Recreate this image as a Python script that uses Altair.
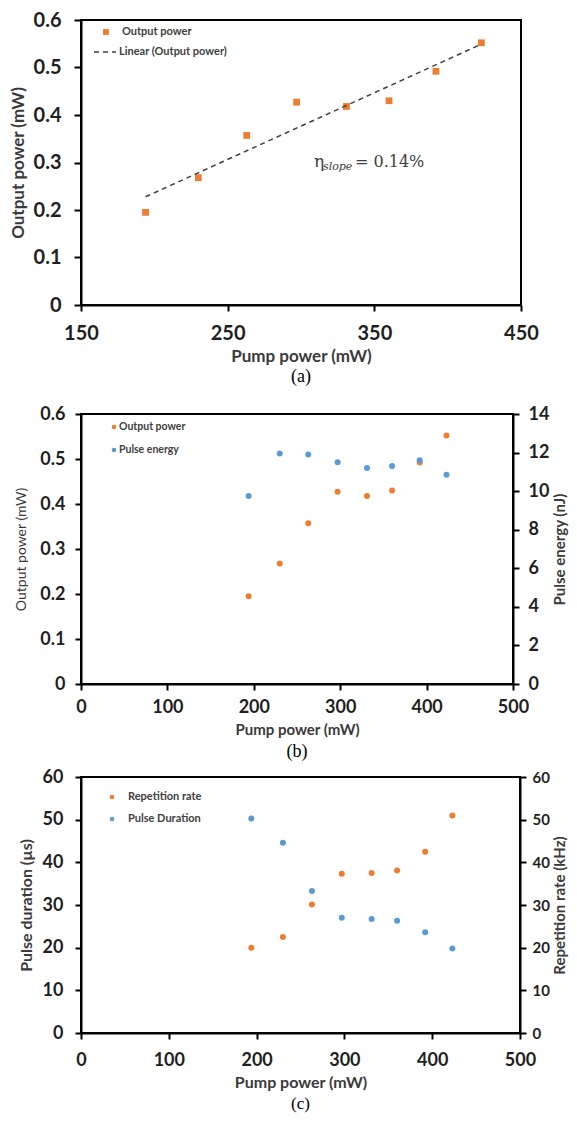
import altair as alt
import pandas as pd

# ---- data ----
pump = [194, 230, 263, 297, 331, 360, 392, 423]
output_power = [0.195, 0.268, 0.357, 0.427, 0.418, 0.430, 0.492, 0.552]
pulse_energy = [9.75, 11.95, 11.9, 11.5, 11.2, 11.3, 11.6, 10.85]
rep_rate = [20.0, 22.5, 30.1, 37.3, 37.5, 38.1, 42.5, 51.0]
pulse_duration = [50.3, 44.6, 33.3, 27.0, 26.7, 26.3, 23.6, 19.8]

xticks_a = [150, 250, 350, 450]
yticks_power = [0, 0.1, 0.2, 0.3, 0.4, 0.5, 0.6]
xticks_bc = [0, 100, 200, 300, 400, 500]
yticks_energy = [0, 2, 4, 6, 8, 10, 12, 14]
yticks_60 = [0, 10, 20, 30, 40, 50, 60]

ORANGE = "#ED7D31"
BLUE = "#5B9BD5"
FONT = "Lato"
TXT = "#404040"

df = pd.DataFrame({"pump": pump, "out": output_power, "energy": pulse_energy,
                   "rep": rep_rate, "dur": pulse_duration})
one = pd.DataFrame({"d": [0]})


def label(text, x, y, size=11, weight="bold", font=FONT, style="normal", color=TXT):
    return alt.Chart(one).mark_text(text=text, align="left", baseline="middle", font=font,
                                    fontSize=size, fontWeight=weight, fontStyle=style,
                                    color=color).encode(x=alt.value(x), y=alt.value(y))


def dot(x, y, color, shape="circle", size=36):
    return alt.Chart(one).mark_point(shape=shape, filled=True, size=size, color=color,
                                     opacity=1).encode(x=alt.value(x), y=alt.value(y))


def caption(t, off, size=18):
    return alt.TitleParams(t, orient="bottom", font="Liberation Serif", fontSize=size,
                           fontWeight="normal", color="black", offset=off, anchor="middle")


# ---------------- panel (a) ----------------
xa = alt.X("pump:Q", scale=alt.Scale(domain=[150, 450], nice=False, zero=False),
           axis=alt.Axis(values=xticks_a, title="Pump power (mW)", labelFontSize=20,
                         labelFlush=False, titleFontSize=17, labelPadding=12,
                         titlePadding=5, tickSize=6))
ya = alt.Y("out:Q", scale=alt.Scale(domain=[0, 0.6], nice=False),
           axis=alt.Axis(values=yticks_power, format="~g", title="Output power (mW)",
                         labelFontSize=20, titleFontSize=17, labelPadding=13,
                         titlePadding=6, tickSize=7))
pts_a = alt.Chart(df).mark_point(shape="square", filled=True, size=46, color=ORANGE,
                                 opacity=1).encode(x=xa, y=ya)
fit_a = alt.Chart(df).transform_regression("pump", "out").mark_line(
    color="#404040", strokeDash=[5, 4], strokeWidth=1.5).encode(x="pump:Q", y="out:Q")

leg_a = [
    dot(25, 12, ORANGE, shape="square", size=34),
    label("Output power", 41, 12),
    alt.Chart(one).mark_rule(color="#404040", strokeDash=[5, 4], strokeWidth=1.5).encode(
        x=alt.value(13), x2=alt.value(35), y=alt.value(32)),
    label("Linear (Output power)", 38, 32),
    label("η", 233, 142, size=17, weight="normal", font="DejaVu Serif"),
    label("slope", 242, 147, size=11, weight="normal", font="DejaVu Serif", style="italic"),
    label("= 0.14%", 274, 142, size=16, weight="normal", font="DejaVu Serif"),
]
panel_a = alt.layer(pts_a, fit_a, *leg_a).properties(
    width=440, height=285, title=caption("(a)", 4))

# ---------------- panel (b) ----------------
xb = alt.X("pump:Q", scale=alt.Scale(domain=[0, 500], nice=False),
           axis=alt.Axis(values=xticks_bc, title="Pump power (mW)", labelFontSize=18,
                         labelFlush=False, titleFontSize=15, labelPadding=8,
                         titlePadding=6, tickSize=6))
yb_l = alt.Y("out:Q", scale=alt.Scale(domain=[0, 0.6], nice=False),
             axis=alt.Axis(values=yticks_power, format="~g", title="Output power (mW)",
                           titleFontWeight="normal", labelFontSize=18, titleFontSize=14,
                           labelPadding=10, titlePadding=11, tickSize=6))
yb_r = alt.Y("energy:Q", scale=alt.Scale(domain=[0, 14], nice=False),
             axis=alt.Axis(values=yticks_energy, orient="right", title="Pulse energy (nJ)",
                           titleAngle=270, titleBaseline="top", labelFontSize=18,
                           titleFontSize=15, labelPadding=9, titlePadding=4, tickSize=6))
pts_b1 = alt.Chart(df).mark_circle(size=36, color=ORANGE, opacity=1).encode(x=xb, y=yb_l)
pts_b2 = alt.Chart(df).mark_circle(size=36, color=BLUE, opacity=1).encode(x=xb, y=yb_r)
leg_b = [dot(33, 13, ORANGE, size=22), label("Output power", 38, 13, size=10.5),
         dot(33, 36, BLUE, size=22), label("Pulse energy", 38, 36, size=10.5)]
panel_b = alt.layer(pts_b1, pts_b2, *leg_b).resolve_scale(y="independent").properties(
    width=432, height=270, title=caption("(b)", 6))

# ---------------- panel (c) ----------------
xc = alt.X("pump:Q", scale=alt.Scale(domain=[0, 500], nice=False),
           axis=alt.Axis(values=xticks_bc, title="Pump power (mW)", labelFontSize=18,
                         labelFlush=False, titleFontSize=16, labelPadding=12,
                         titlePadding=5, tickSize=6))
yc_l = alt.Y("dur:Q", scale=alt.Scale(domain=[0, 60], nice=False),
             axis=alt.Axis(values=yticks_60, title="Pulse duration (µs)",
                           labelFontSize=18, titleFontSize=16, labelPadding=12,
                           titlePadding=8, tickSize=6))
yc_r = alt.Y("rep:Q", scale=alt.Scale(domain=[0, 60], nice=False),
             axis=alt.Axis(values=yticks_60, orient="right", title="Repetition rate (kHz)",
                           titleAngle=270, titleBaseline="top", labelFontSize=15,
                           titleFontSize=15, labelPadding=6, titlePadding=3, tickSize=6))
pts_c1 = alt.Chart(df).mark_circle(size=36, color=BLUE, opacity=1).encode(x=xc, y=yc_l)
pts_c2 = alt.Chart(df).mark_circle(size=36, color=ORANGE, opacity=1).encode(x=xc, y=yc_r)
leg_c = [dot(31, 20, ORANGE, size=22), label("Repetition rate", 47, 20),
         dot(31, 42, BLUE, size=22), label("Pulse Duration", 47, 42)]
panel_c = alt.layer(pts_c1, pts_c2, *leg_c).resolve_scale(y="independent").properties(
    width=439, height=256, title=caption("(c)", 6, 17))

chart = alt.concat(
    alt.concat(panel_a, panel_b, columns=1, spacing=17, align="none"),
    panel_c, columns=1, spacing=5, align="none",
).properties(
    padding={"left": 0, "top": 1, "right": 0, "bottom": 0}
).configure_axis(
    grid=False, domainColor="black", domainWidth=2, tickColor="black", tickWidth=2,
    labelFont=FONT, labelFontWeight="bold", labelColor="#1f1f1f",
    titleFont=FONT, titleFontWeight="bold", titleColor="#3a3a3a",
).configure_view(stroke="black", strokeWidth=2)

chart.save("out.html", embed_options={"renderer": "svg", "actions": False})
